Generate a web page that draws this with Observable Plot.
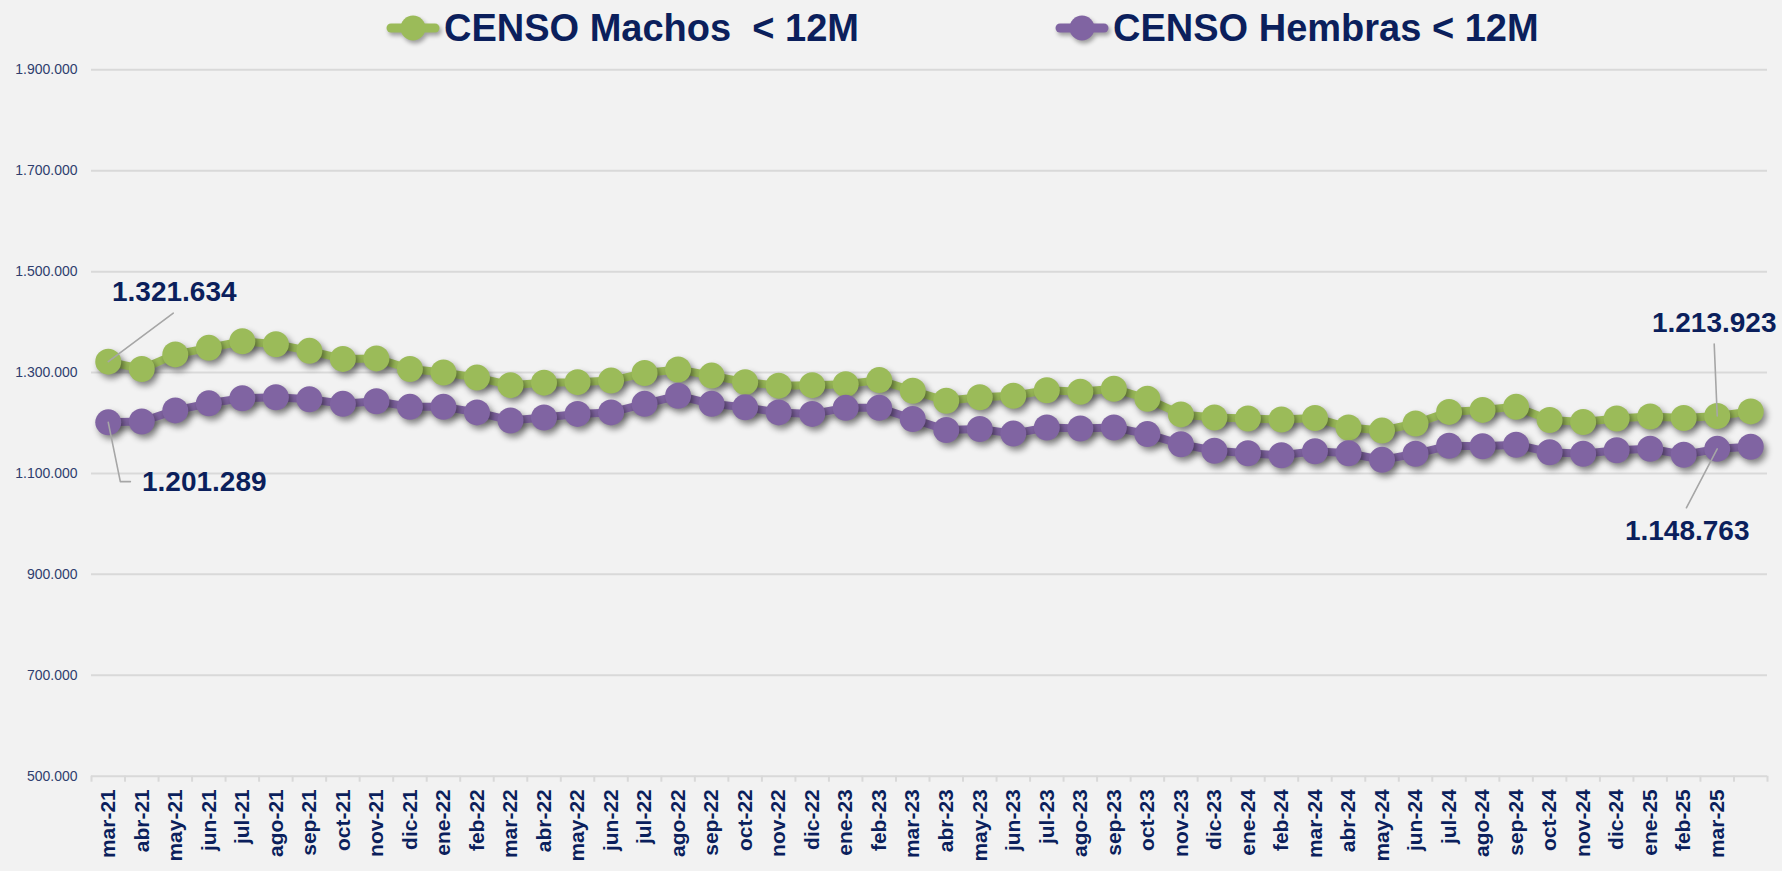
<!DOCTYPE html>
<html><head><meta charset="utf-8">
<script src="https://cdn.jsdelivr.net/npm/d3@7"></script>
<script src="https://cdn.jsdelivr.net/npm/@observablehq/plot@0.6"></script>
<style>
html,body{margin:0;padding:0;background:#f2f2f2;}
#wrap{position:relative;width:1782px;height:871px;overflow:hidden;background:#f2f2f2;font-family:"Liberation Sans",Arial,sans-serif;}
#legend{position:relative;height:56px;}
.item{position:absolute;top:8px;display:flex;align-items:center;height:40px;}
.item span{font-weight:bold;font-size:38px;color:#0b1f5c;white-space:pre;margin-left:4px;}
</style></head><body>
<div id="wrap"><div id="legend"></div><div id="chart"></div></div>
<script>
const months = ["mar-21","abr-21","may-21","jun-21","jul-21","ago-21","sep-21","oct-21","nov-21","dic-21",
"ene-22","feb-22","mar-22","abr-22","may-22","jun-22","jul-22","ago-22","sep-22","oct-22","nov-22","dic-22",
"ene-23","feb-23","mar-23","abr-23","may-23","jun-23","jul-23","ago-23","sep-23","oct-23","nov-23","dic-23",
"ene-24","feb-24","mar-24","abr-24","may-24","jun-24","jul-24","ago-24","sep-24","oct-24","nov-24","dic-24",
"ene-25","feb-25","mar-25",""];
const machos = [1321634,1307000,1336000,1349000,1362000,1356000,1343000,1327000,1328000,1307000,
1300000,1290000,1275000,1280000,1281000,1284000,1299000,1306000,1294000,1281000,1274000,1275000,
1277000,1285000,1264000,1244000,1251000,1254000,1265000,1262000,1268000,1248000,1217000,1211000,
1209000,1207000,1210000,1191000,1185000,1199000,1222000,1226000,1232000,1206000,1202000,1209000,
1213000,1210000,1213923,1223000];
const hembras = [1201289,1203000,1225000,1239000,1249000,1251000,1247000,1238000,1243000,1232000,
1232000,1221000,1205000,1211000,1218000,1221000,1238000,1254000,1238000,1231000,1221000,1218000,
1230000,1230000,1208000,1186000,1188000,1179000,1191000,1189000,1191000,1178000,1158000,1145000,
1140000,1136000,1144000,1140000,1127000,1139000,1155000,1154000,1157000,1142000,1139000,1146000,
1149000,1137000,1148763,1153000];
const seriesNames = ["CENSO Machos  < 12M", "CENSO Hembras < 12M"];
const seriesColors = ["#9bbb59", "#8064a2"];
const yTicks = [500000,700000,900000,1100000,1300000,1500000,1700000,1900000];

const navy = "#0b1f5c";
const fmt = d3.formatLocale({decimal:",", thousands:".", grouping:[3], currency:["",""]}).format(",d");

// legend
const legend = document.getElementById("legend");
const legendLeft = [386, 1055];
seriesNames.forEach((name, k) => {
  const it = document.createElement("div");
  it.className = "item";
  it.style.left = legendLeft[k] + "px";
  it.innerHTML = `<svg width="54" height="30" style="filter:drop-shadow(2px 3px 2px rgba(0,0,0,0.35))"><line x1="5" y1="15" x2="49" y2="15" stroke="${seriesColors[k]}" stroke-width="9" stroke-linecap="round"/><circle cx="27" cy="15" r="12.5" fill="${seriesColors[k]}"/></svg><span></span>`;
  it.querySelector("span").textContent = name;
  legend.appendChild(it);
});

const rows = k => (k === 0 ? machos : hembras).map((v, i) => ({i, value: v, serie: seriesNames[k]}));

const annotations = [
  {i: 0, v: machos[0], dx: 66, dy: -70},
  {i: 0, v: hembras[0], dx: 96, dy: 60},
  {i: 48, v: machos[48], dx: -3, dy: -93},
  {i: 48, v: hembras[48], dx: -30, dy: 82}
];
const leaders = [
  [{i: 0, v: machos[0]}, {i: 1.94, v: machos[0] + 96000}],
  [{i: 0, v: hembras[0]}, {i: 0.36, v: hembras[0] - 117500}, {i: 0.66, v: hembras[0] - 117500}],
  [{i: 48, v: machos[48]}, {i: 47.91, v: machos[48] + 142500}],
  [{i: 48, v: hembras[48]}, {i: 47.08, v: hembras[48] - 116800}]
];

const seriesMarks = [];
[0, 1].forEach(k => {
  seriesMarks.push(Plot.line(rows(k), {x: "i", y: "value", stroke: seriesColors[k], strokeWidth: 8}));
  seriesMarks.push(Plot.dot(rows(k), {x: "i", y: "value", fill: seriesColors[k], r: 13, stroke: "none"}));
});

const plot = Plot.plot({
  width: 1782, height: 815,
  marginTop: 13.3, marginBottom: 95.3, marginLeft: 91, marginRight: 15,
  style: {background: "transparent", fontFamily: "'Liberation Sans', Arial, sans-serif", overflow: "visible"},
  x: {type: "linear", domain: [-0.5, months.length - 0.5]},
  y: {domain: [500000, 1900000]},
  marks: [
    Plot.ruleY(yTicks, {stroke: "#d9d9d9", strokeWidth: 2}),
    Plot.axisY(yTicks, {tickSize: 0, tickPadding: 14, tickFormat: fmt, fontSize: 14, fill: "#2f3e6e", label: null}),
    Plot.axisX(d3.range(months.length + 1).map(k => k - 0.5), {tickSize: 6, stroke: "#d9d9d9", strokeWidth: 2, tickFormat: () => "", label: null}),
    Plot.axisX(d3.range(months.length), {tickSize: 0, tickPadding: 13, tickRotate: -90, tickFormat: i => months[i], fontSize: 21, fontWeight: "bold", fill: navy, label: null}),
    ...seriesMarks,
    ...leaders.map(L => Plot.line(L, {x: "i", y: "v", stroke: "#a6a6a6", strokeWidth: 1.6})),
    Plot.text(annotations, {x: "i", y: "v", text: d => fmt(d.v), fontSize: 28, fontWeight: "bold", fill: navy})
  ]
});
document.getElementById("chart").appendChild(plot);

// per-datum offsets for the annotation labels
const annG = plot.querySelectorAll('g[aria-label="text"] text');
annG.forEach((t, j) => {
  const a = annotations[j];
  if (!a) return;
  const tr = t.getAttribute("transform") || "";
  t.setAttribute("transform", tr + ` translate(${a.dx},${a.dy})`);
});
plot.querySelectorAll('g[aria-label="line"], g[aria-label="dot"]').forEach((g, j) => {
  if (j < 4) g.style.filter = "drop-shadow(3px 4px 3px rgba(0,0,0,0.45))";
});
</script>
</body></html>
